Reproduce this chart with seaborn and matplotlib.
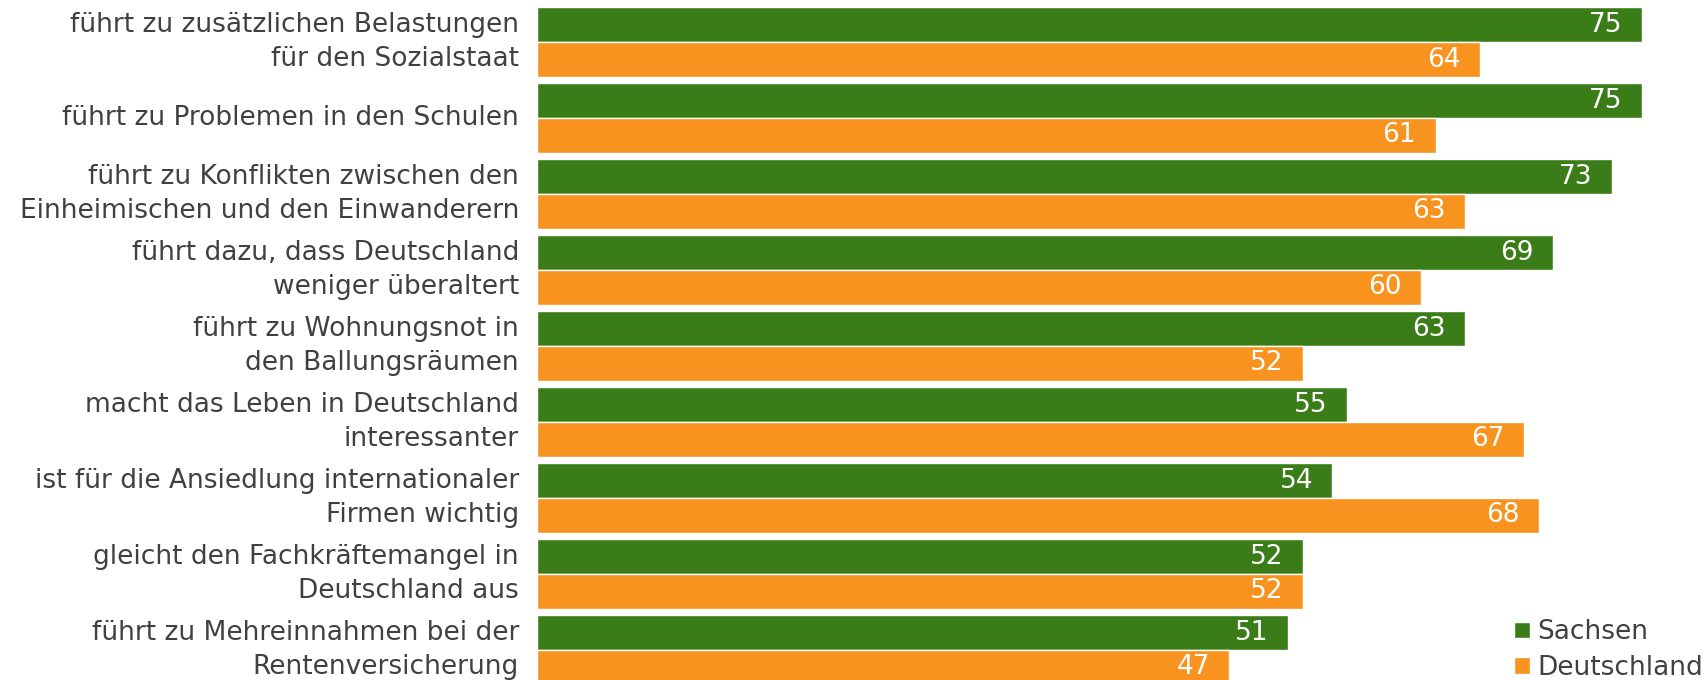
import matplotlib
matplotlib.use('Agg')
import matplotlib.pyplot as plt
import seaborn as sns
import pandas as pd

statements = ['führt zu zusätzlichen Belastungen\nfür den Sozialstaat',
              'führt zu Problemen in den Schulen',
              'führt zu Konflikten zwischen den\nEinheimischen und den Einwanderern',
              'führt dazu, dass Deutschland\nweniger überaltert',
              'führt zu Wohnungsnot in\nden Ballungsräumen',
              'macht das Leben in Deutschland\ninteressanter',
              'ist für die Ansiedlung internationaler\nFirmen wichtig',
              'gleicht den Fachkräftemangel in\nDeutschland aus',
              'führt zu Mehreinnahmen bei der\nRentenversicherung']
sachsen = [75, 75, 73, 69, 63, 55, 54, 52, 51]
deutschland = [64, 61, 63, 60, 52, 67, 68, 52, 47]
regions = ['Sachsen', 'Deutschland']
colors = ['#3a7d18', '#f7931e']

df = pd.DataFrame({
    'statement': statements * 2,
    'value': sachsen + deutschland,
    'region': [regions[0]] * len(statements) + [regions[1]] * len(statements),
})

sns.set_style('white')
plt.rcParams['font.family'] = ['DejaVu Sans']
textcol = '#404040'
fs = 19

fig = plt.figure(figsize=(17.08, 6.8), dpi=100)
ax = fig.add_axes([537 / 1708, 0, 1 - 537 / 1708, 1])

sns.barplot(data=df, y='statement', x='value', hue='region', orient='h',
            palette=colors, width=0.92, saturation=1, ax=ax, legend=True)

for cont in ax.containers:
    labels = ax.bar_label(cont, label_type='edge', padding=-14, color='white', fontsize=fs)
    for t in labels:
        t.set_horizontalalignment('right')

ax.set_xlim(0, 79.5)
ax.set_ylim(8.395, -0.553)
ax.set_xlabel('')
ax.set_ylabel('')
ax.set_xticks([])
ax.tick_params(axis='y', length=0, pad=13, labelsize=fs, labelcolor=textcol)
for lbl in ax.get_yticklabels():
    lbl.set_linespacing(1.42)
    lbl.set_horizontalalignment('right')
    lbl.set_verticalalignment('center')
for s in ax.spines.values():
    s.set_visible(False)

ax.legend(loc='center left', bbox_to_anchor=(1514 / 1708, 1 - 650 / 680),
          bbox_transform=fig.transFigure, frameon=False, borderpad=0,
          borderaxespad=0, fontsize=fs, labelcolor=textcol,
          handlelength=0.6, handleheight=0.6, handletextpad=0.3,
          labelspacing=0.36)

fig.savefig('out.png', dpi=100)
